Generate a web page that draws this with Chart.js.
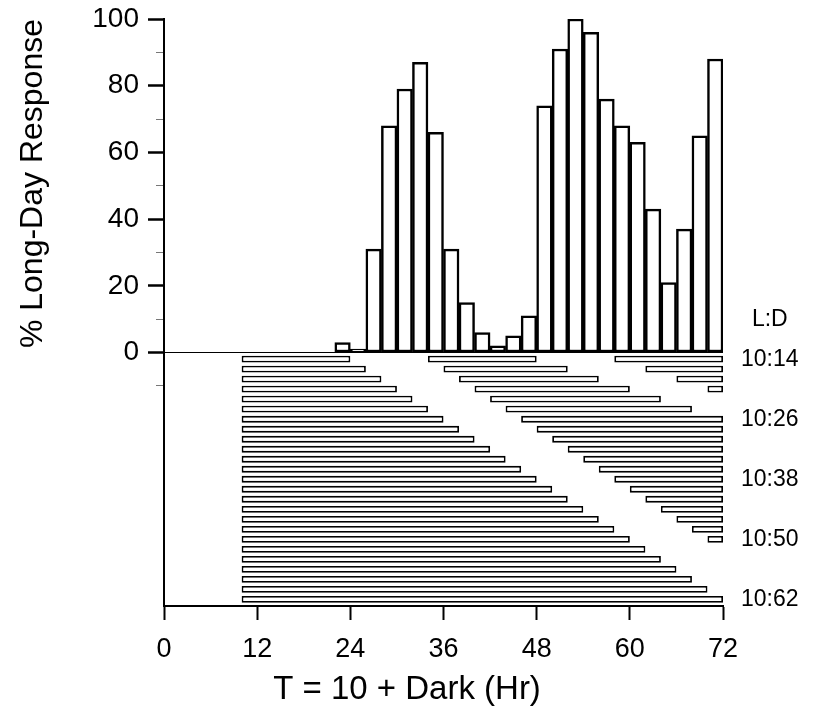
<!DOCTYPE html>
<html>
<head>
<meta charset="utf-8">
<title>Long-day response vs cycle length</title>
<script src="https://cdn.jsdelivr.net/npm/chart.js@4.4.1/dist/chart.umd.min.js"></script>
<style>
  html, body { margin: 0; padding: 0; background: #fff; }
  #chart { display: block; }
</style>
</head>
<body>
<canvas id="chart" width="814" height="717"></canvas>
<script>
// Cycle length T (hr) of each 2-hr bin and the % long-day response
const cycleHours = [24, 26, 28, 30, 32, 34, 36, 38, 40, 42, 44, 46, 48,
                    50, 52, 54, 56, 58, 60, 62, 64, 66, 68, 70, 72];
const longDayResponse = [3, 1, 31, 68, 79, 87, 66, 31, 15, 6, 2, 5, 11,
                         74, 91, 100, 96, 76, 68, 63, 43, 21, 37, 65, 88];
const binWidth = 2;

// Axis ticks
const xTicks = [0, 12, 24, 36, 48, 60, 72];
const yMajorTicks = [0, 20, 40, 60, 80, 100];
const yMinorTicks = [-10, 10, 30, 50, 70, 90];

// Schedule rows below the histogram (one row per cycle, dark periods in hr)
const rowPositions = [-2, -5, -8, -11, -14, -17, -20, -23, -26, -29, -32, -35, -38,
                      -41, -44, -47, -50, -53, -56, -59, -62, -65, -68, -71, -74];
const darkPeriods = [
    [[10, 24], [34, 48], [58, 72]],
    [[10, 26], [36, 52], [62, 72]],
    [[10, 28], [38, 56], [66, 72]],
    [[10, 30], [40, 60], [70, 72]],
    [[10, 32], [42, 64]],
    [[10, 34], [44, 68]],
    [[10, 36], [46, 72]],
    [[10, 38], [48, 72]],
    [[10, 40], [50, 72]],
    [[10, 42], [52, 72]],
    [[10, 44], [54, 72]],
    [[10, 46], [56, 72]],
    [[10, 48], [58, 72]],
    [[10, 50], [60, 72]],
    [[10, 52], [62, 72]],
    [[10, 54], [64, 72]],
    [[10, 56], [66, 72]],
    [[10, 58], [68, 72]],
    [[10, 60], [70, 72]],
    [[10, 62]],
    [[10, 64]],
    [[10, 66]],
    [[10, 68]],
    [[10, 70]],
    [[10, 72]]
];

// Right-hand L:D labels
const ldTickValues = [10, -2, -20, -38, -56, -74];
const ldTickLabels = ['L:D', '10:14', '10:26', '10:38', '10:50', '10:62'];

Chart.defaults.font.family = "'Liberation Sans', Arial, sans-serif";
Chart.defaults.color = '#000';

const histData = cycleHours.map((t, i) => ({ x: t - binWidth / 2, y: longDayResponse[i] }));
const scheduleData = darkPeriods.flatMap((row, i) => row.map(p => ({ y: rowPositions[i], x: p })));

const isMajor = c => c.tick && yMajorTicks.includes(c.tick.value);

// keep label overflow from pushing the plot area around
const noPadding = s => { s.paddingTop = 0; s.paddingBottom = 0; };

new Chart(document.getElementById('chart'), {
    type: 'bar',
    data: {
        datasets: [
            {
                label: '% Long-Day Response',
                data: histData,
                xAxisID: 'x',
                yAxisID: 'y',
                backgroundColor: '#fff',
                borderColor: '#000',
                borderWidth: 2.5,
                borderSkipped: false,
                categoryPercentage: 1,
                barPercentage: 1,
                grouped: false
            },
            {
                label: 'Dark periods',
                type: 'bar',
                indexAxis: 'y',
                data: scheduleData,
                xAxisID: 'x2',
                yAxisID: 'y2',
                backgroundColor: '#fff',
                borderColor: '#000',
                borderWidth: 1.8,
                borderSkipped: false,
                categoryPercentage: 1,
                barPercentage: 0.68,
                grouped: false
            }
        ]
    },
    options: {
        responsive: false,
        animation: false,
        devicePixelRatio: 1,
        layout: { padding: { top: 19, left: 0, right: 0, bottom: 0 } },
        plugins: {
            legend: { display: false },
            tooltip: { enabled: false },
            title: {
                display: true,
                position: 'bottom',
                text: 'T = 10 + Dark (Hr)',
                color: '#000',
                font: { size: 33, weight: 'normal' },
                padding: { top: 2, bottom: 7 }
            }
        },
        scales: {
            x: {
                type: 'linear',
                position: 'bottom',
                min: 0,
                max: 72,
                offset: false,
                afterBuildTicks: s => { s.ticks = xTicks.map(v => ({ value: v })); },
                ticks: { autoSkip: false, maxRotation: 0, font: { size: 27 }, padding: 13 },
                grid: { drawOnChartArea: false, offset: false, tickLength: 14, tickWidth: 2, tickColor: '#000' },
                border: { color: '#000', width: 2 },
                afterFit: s => { s.height = 62.4; }
            },
            x2: {
                type: 'linear',
                axis: 'x',
                position: 'bottom',
                display: false,
                min: 0,
                max: 72,
                offset: false,
                beginAtZero: false
            },
            y: {
                type: 'linear',
                position: 'left',
                min: -76,
                max: 100,
                offset: false,
                afterBuildTicks: s => {
                    s.ticks = [...yMinorTicks, ...yMajorTicks].sort((a, b) => a - b).map(v => ({ value: v }));
                },
                ticks: {
                    autoSkip: false,
                    font: { size: 28 },
                    padding: 9,
                    callback: v => yMajorTicks.includes(v) ? String(v) : ''
                },
                grid: {
                    drawOnChartArea: true,
                    offset: false,
                    color: c => (c.tick && c.tick.value === 0) ? '#000' : 'rgba(0,0,0,0)',
                    lineWidth: 1,
                    tickLength: 16,
                    tickColor: c => isMajor(c) ? '#000' : '#777',
                    tickWidth: c => isMajor(c) ? 2.5 : 1,
                    tickBorderDash: c => isMajor(c) ? [] : [8, 8],
                    tickBorderDashOffset: c => isMajor(c) ? 0 : 8
                },
                border: { color: '#000', width: 2 },
                title: {
                    display: true,
                    text: '% Long-Day Response',
                    align: 'end',
                    font: { size: 32 },
                    padding: { top: 14, bottom: 0 }
                },
                afterFit: s => { s.width = 164; noPadding(s); }
            },
            y2: {
                type: 'linear',
                axis: 'y',
                position: 'right',
                min: -76,
                max: 100,
                offset: false,
                afterBuildTicks: s => { s.ticks = ldTickValues.map(v => ({ value: v })); },
                ticks: {
                    autoSkip: false,
                    font: { size: 23 },
                    padding: 18,
                    crossAlign: 'center',
                    callback: v => ldTickLabels[ldTickValues.indexOf(v)]
                },
                grid: { display: false, drawTicks: false, offset: false },
                border: { display: false },
                afterFit: s => { s.width = 91; noPadding(s); }
            }
        }
    }
});
</script>
</body>
</html>
